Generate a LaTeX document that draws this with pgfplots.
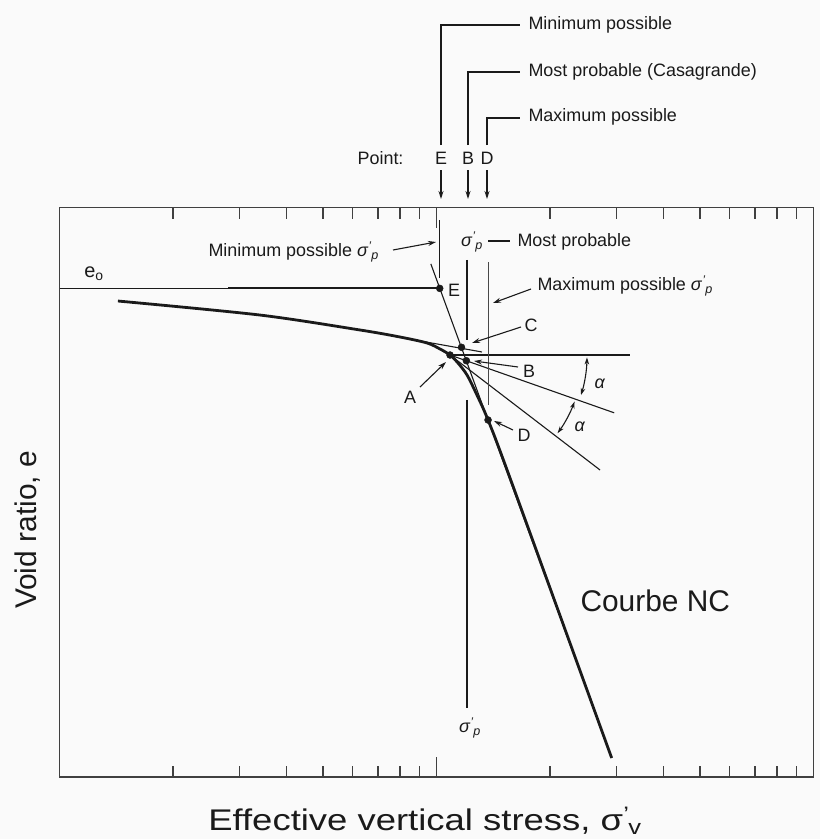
\documentclass[border=0pt]{standalone}
\usepackage{fontspec}
\setmainfont{Liberation Sans}
\usepackage{graphicx}
\usepackage{pgfplots}
\pgfplotsset{compat=1.18}
\usetikzlibrary{arrows.meta}

\definecolor{ink}{HTML}{1A1A1A}
% preconsolidation stress symbol
\newcommand\sigp{\textit{σ}\textsuperscript{\textit{'}}\kern-0.5bp\textsubscript{\textit{p}}}

\begin{document}
\begin{tikzpicture}
\useasboundingbox (0,0) rectangle (820bp,-839bp);
\fill[black!2] (0,0) rectangle (820bp,-839bp);
\begin{axis}[
  at={(59.5bp,-777bp)}, anchor=south west,
  scale only axis, width=754bp, height=569.5bp,
  xmode=log, xmin=1, xmax=100, ymin=0, ymax=10,
  xtick={10}, minor xtick={2,3,...,9,20,30,...,90},
  ytick=\empty, minor ytick={1,...,9},
  xticklabels={\relax},
  tick align=inside,
  major tick length=20bp, minor tick length=11bp,
  axis line style={line width=1.6bp, draw=black!75},
  every tick/.style={line width=1.2bp, black!75},
  clip=false,
]
% initial void ratio e0
\addplot[ink, line width=1bp] coordinates {(1,8.58) (10.2,8.58)};
\addplot[ink, line width=2.2bp] coordinates {(2.8,8.58) (10.2,8.58)};
% extension of the virgin compression line
\addplot[ink, line width=1.1bp] coordinates {(9.66,9.01) (29.15,0.334)};
% laboratory compression curve
\addplot[ink, line width=2.8bp, smooth, tension=0.5] coordinates {
 (1.429,8.358) (3.40,8.112) (6.27,7.849) (8.0,7.726) (9.44,7.621)
 (10.22,7.515) (10.86,7.410) (11.40,7.270) (12.05,7.059) (12.80,6.708)
 (13.70,6.269) (15.67,5.25) (29.15,0.334)};
% Casagrande construction at A
\addplot[ink, line width=1.1bp] coordinates {(10.86,7.41) (32.61,7.41)};
\addplot[ink, line width=1.1bp] coordinates {(10.86,7.41) (29.6,6.395)};
\addplot[ink, line width=1.1bp] coordinates {(10.86,7.41) (27.15,5.391)};
\addplot[ink, line width=1.1bp] coordinates {(8.77,7.673) (13.2,7.463)};
% sigma'_p verticals
\addplot[ink, line width=1.1bp] coordinates {(10.2,9.78) (10.2,8.76)};
\addplot[ink, line width=1.1bp] coordinates {(12.05,9.08) (12.05,7.67)};
\addplot[ink, line width=1.1bp] coordinates {(12.05,6.62) (12.05,1.21)};
\addplot[ink!80, line width=1.1bp] coordinates {(13.72,9.04) (13.72,6.53)};
% points E, C, A, B, D
\addplot[only marks, mark=*, mark size=3.5bp, ink] coordinates {
 (10.2,8.58) (11.65,7.545) (10.86,7.41) (12.0,7.31) (13.70,6.269)};
\end{axis}

\begin{scope}[x=1bp, y=-1bp, ink, font=\fontsize{18}{21}\selectfont,
  arr/.style={line width=1.1bp, -{Stealth[length=8bp,width=5bp]}}]
% range of sigma'_p above the chart
\draw[line width=1.1bp] (441,145) |- (520,25);
\draw[line width=1.1bp] (468,145) |- (520,72);
\draw[line width=1.1bp] (487,145) |- (520,118);
\node[anchor=west] at (525,25) {Minimum possible};
\node[anchor=west] at (525,72) {Most probable (Casagrande)};
\node[anchor=west] at (525,117) {Maximum possible};
\node[anchor=east] at (407,158) {Point:};
\node at (441,158) {E};
\node at (468,158) {B};
\node at (487,158) {D};
\draw[arr] (441,170) -- (441,199);
\draw[arr] (468,170) -- (468,199);
\draw[arr] (487,170) -- (487,199);
% labels inside the chart
\node[anchor=west] at (205,252) {Minimum possible \sigp};
\draw[arr] (393,250) -- (436,242);
\node at (472,242) {\sigp};
\draw[line width=1.1bp] (488,241) -- (510,241);
\node[anchor=west] at (514,242) {Most probable};
\node[anchor=west] at (534,286) {Maximum possible \sigp};
\draw[arr] (531,289) -- (493,303);
\node at (531,325) {C};
\draw[arr] (521,327) -- (472,343);
\node at (529,371) {B};
\draw[arr] (518,367) -- (474,361);
\node at (410,397) {A};
\draw[arr] (420,387) -- (446,362);
\node at (524,435) {D};
\draw[arr] (513,430) -- (494,421);
\node at (454,290) {E};
\node at (600,384) {\textit{α}};
\node at (580,427) {\textit{α}};
\node at (470,728) {\sigp};
\node[font=\fontsize{20}{22}\selectfont] at (94,274) {e\textsubscript{o}};
\draw[line width=1.1bp, {Stealth[length=7bp,width=4.5bp]}-{Stealth[length=7bp,width=4.5bp]}]
  (450,355) ++(1:137) arc[start angle=1, end angle=17, radius=137];
\draw[line width=1.1bp, {Stealth[length=7bp,width=4.5bp]}-{Stealth[length=7bp,width=4.5bp]}]
  (450,355) ++(20.5:133) arc[start angle=20.5, end angle=36, radius=133];
\node[anchor=west, font=\fontsize{30}{36}\selectfont] at (577,601) {Courbe NC};
% axis titles
\node[font=\fontsize{30}{36}\selectfont] at (425,821)
  {\scalebox{1.22}[1]{Effective vertical stress, σ\textsuperscript{'}\kern-1bp\textsubscript{v}}};
\node[rotate=90, font=\fontsize{30}{36}\selectfont] at (28,530) {Void ratio, e};
\end{scope}
\end{tikzpicture}
\end{document}
